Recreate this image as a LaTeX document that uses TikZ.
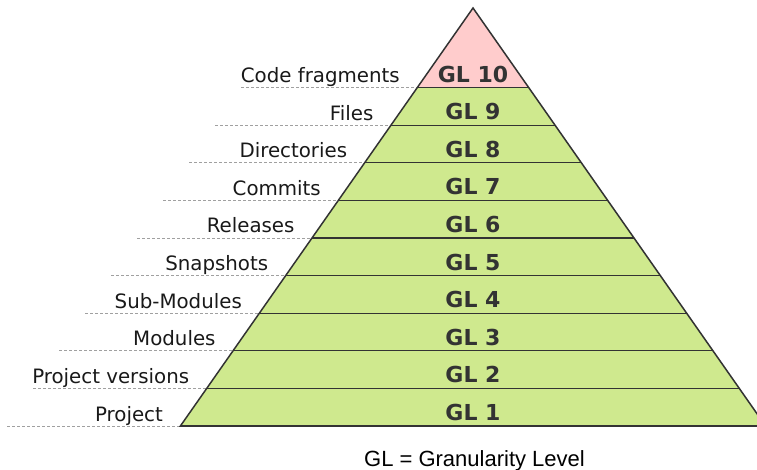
\documentclass[tikz,border=0pt]{standalone}
\usepackage{fontspec}
\setmainfont{DejaVu Sans}
\newfontfamily\notefont{Liberation Sans}
\usepackage{xcolor}
\usetikzlibrary{calc}
\definecolor{glgreen}{RGB}{207,233,142}
\definecolor{glpink}{RGB}{255,204,204}
\definecolor{gldark}{RGB}{51,51,51}
\definecolor{glguide}{RGB}{160,160,160}

\begin{document}
\begin{tikzpicture}[x=1pt,y=-1pt,
  level/.style={font=\bfseries\fontsize{22}{22}\selectfont, text=gldark, anchor=base},
  tag/.style={font=\fontsize{19.8}{20}\selectfont, text=black!90, anchor=base east},
  guide/.style={glguide, dash pattern=on 3pt off 2pt, line width=0.8pt},
  rung/.style={gldark, line width=1.2pt}]
  \useasboundingbox (0,0) rectangle (757,470);
  \coordinate (top) at (473,8);
  \coordinate (bl) at (180.4,426);
  \coordinate (br) at (765.6,426);
  \fill[glgreen] (top) -- (bl) -- (br) -- cycle;
  \foreach \txt [count=\i] in {Project, Project versions, Modules, Sub-Modules,
      Snapshots, Releases, Commits, Directories, Files, Code fragments} {
    \pgfmathsetmacro\y{426-37.6*(\i-1)}
    \pgfmathsetmacro\dx{0.7*(\y-8)}
    \pgfmathsetmacro\sx{7+26*(\i-1)}
    \coordinate (l\i) at (473-\dx,\y);
    \coordinate (r\i) at (473+\dx,\y);
    \coordinate (s\i) at (\sx,\y);
  }
  \fill[glpink] (top) -- (l10) -- (r10) -- cycle;
  \foreach \txt [count=\i] in {Project, Project versions, Modules, Sub-Modules,
      Snapshots, Releases, Commits, Directories, Files, Code fragments} {
    \draw[guide] (s\i) -- (l\i);
    \draw[rung] (l\i) -- (r\i);
    \node[tag] (tag\i) at ([xshift=-14pt,yshift=5pt]l\i) {\txt};
    \node[level] (gl\i) at ([yshift=5.5pt]$(l\i)!0.5!(r\i)$) {GL \i};
  }
  \draw[gldark, line width=1.5pt, line join=miter] (top) -- (bl) -- (br) -- cycle;
  \node[font=\notefont\fontsize{22}{22}\selectfont, anchor=base] (note) at (474.5,466) {GL = Granularity Level};
\end{tikzpicture}
\end{document}
